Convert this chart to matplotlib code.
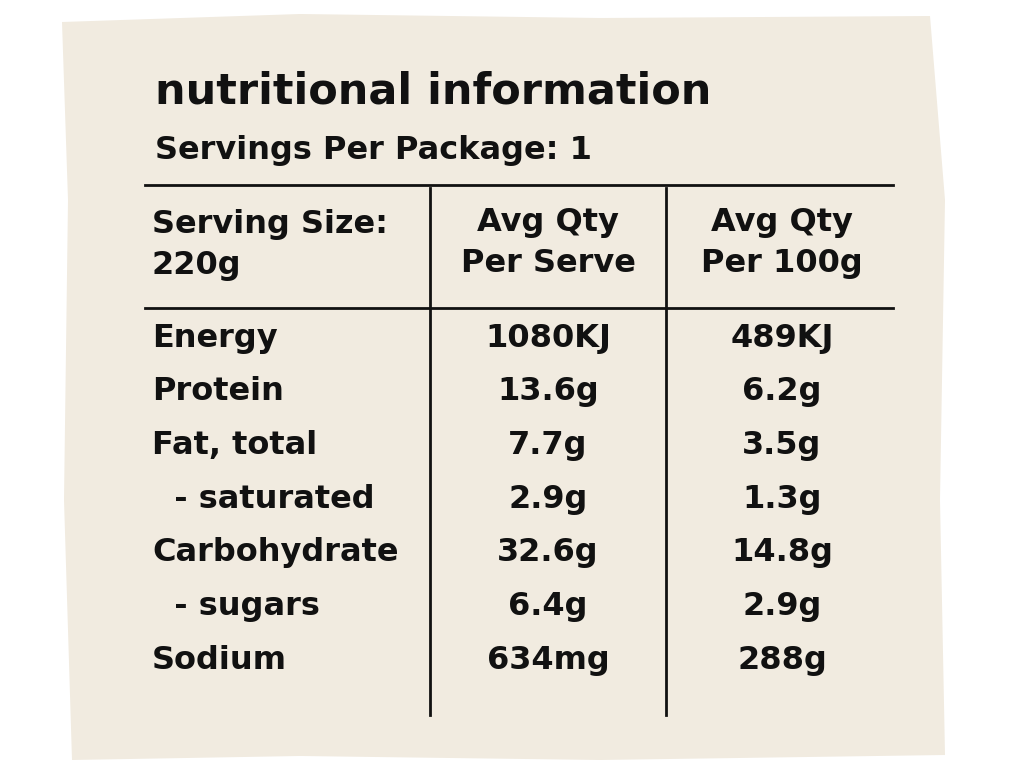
import matplotlib
matplotlib.use("Agg")
import matplotlib.pyplot as plt
from matplotlib.patches import Polygon

title = "nutritional information"
subtitle = "Servings Per Package: 1"
header = ["Serving Size:\n220g", "Avg Qty\nPer Serve", "Avg Qty\nPer 100g"]
nutrients = ["Energy", "Protein", "Fat, total", "  - saturated", "Carbohydrate", "  - sugars", "Sodium"]
per_serve = ["1080KJ", "13.6g", "7.7g", "2.9g", "32.6g", "6.4g", "634mg"]
per_100g = ["489KJ", "6.2g", "3.5g", "1.3g", "14.8g", "2.9g", "288g"]

fig = plt.figure(figsize=(10.24, 7.68), dpi=100)
fig.patch.set_facecolor("white")
ax = fig.add_axes([0, 0, 1, 1])
ax.set_xlim(0, 1024); ax.set_ylim(768, 0); ax.axis("off")

paper = [(62, 22), (300, 14), (600, 18), (930, 16), (945, 200), (940, 500), (945, 755),
         (600, 760), (300, 756), (72, 760), (64, 500), (68, 200)]
ax.add_patch(Polygon(paper, closed=True, facecolor="#f1ebe0", edgecolor="none"))

fam = ["DejaVu Sans"]
ax.text(155, 92, title, fontsize=31, fontweight="bold", family=fam, va="center", color="#111")
ax.text(155, 150, subtitle, fontsize=23, fontweight="bold", family=fam, va="center", color="#111")

lw = 2
ax.plot([145, 893], [185, 185], color="#111", lw=lw)
ax.plot([145, 893], [308, 308], color="#111", lw=lw)
ax.plot([430, 430], [188, 715], color="#111", lw=lw)
ax.plot([666, 666], [188, 715], color="#111", lw=lw)

fs = 23
ax.text(152, 245, header[0], fontsize=fs, fontweight="bold", family=fam, va="center", ha="left",
        linespacing=1.45, color="#111")
ax.text(548, 243, header[1], fontsize=fs, fontweight="bold", family=fam, va="center", ha="center",
        linespacing=1.45, color="#111")
ax.text(782, 243, header[2], fontsize=fs, fontweight="bold", family=fam, va="center", ha="center",
        linespacing=1.45, color="#111")

y0, dy = 338, 53.7
for i, (n, a, b) in enumerate(zip(nutrients, per_serve, per_100g)):
    y = y0 + i * dy
    ax.text(152, y, n, fontsize=fs, fontweight="bold", family=fam, va="center", ha="left", color="#111")
    ax.text(548, y, a, fontsize=fs, fontweight="bold", family=fam, va="center", ha="center", color="#111")
    ax.text(782, y, b, fontsize=fs, fontweight="bold", family=fam, va="center", ha="center", color="#111")

fig.savefig("out.png", dpi=100, facecolor="white")
